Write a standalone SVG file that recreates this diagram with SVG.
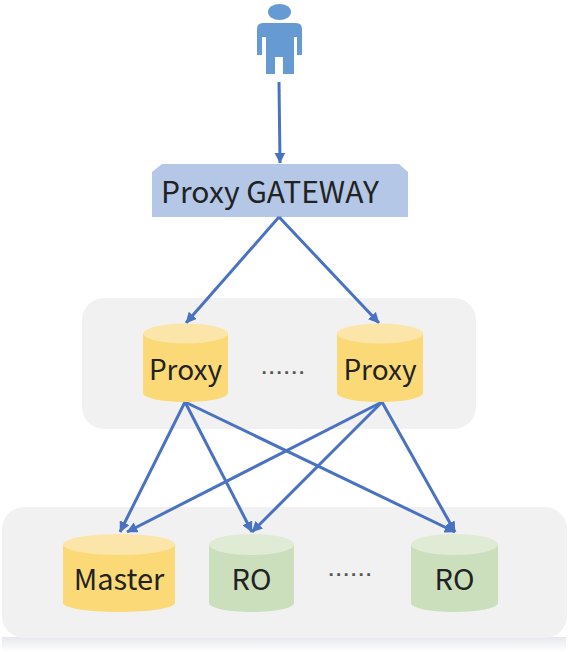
<svg xmlns="http://www.w3.org/2000/svg" width="568" height="652" viewBox="0 0 568 652">
<defs>
<style>
.t{font-family:"Noto Sans CJK SC","Noto Sans",sans-serif;font-size:29px;fill:#222;text-anchor:middle}
.g{font-family:"Liberation Sans",sans-serif;font-size:19px;font-weight:bold;fill:#555;text-anchor:middle;letter-spacing:2.2px}
.c{stroke:#4a72c2;stroke-width:3;fill:none;marker-end:url(#a)}
.p{fill:#f1f1f1}
</style>
<marker id="a" viewBox="0 0 10 10" refX="9.500" refY="5" markerWidth="3.600" markerHeight="3.600" orient="auto"><path d="M0 0L10 5L0 10Z" fill="#4a72c2"/></marker>
<linearGradient id="s" x1="0" y1="0" x2="0" y2="1"><stop offset="0" stop-color="#e6e8ee"/><stop offset="1" stop-color="#fff"/></linearGradient>
</defs>
<rect width="568" height="652" fill="#fff"/>
<rect x="2" y="637" width="564" height="15" fill="url(#s)"/>
<g id="panels">
<rect class="p" x="82" y="298" width="394" height="131" rx="22"/>
<rect class="p" x="2" y="507" width="565" height="131" rx="22"/>
</g>
<g id="user">
<ellipse cx="279.500" cy="12" rx="11.500" ry="8" fill="#659ad2"/>
<path d="M263 23H296Q302 23 302 29V55H297V37H294V74H283V57H275V74H266V37H262V55H257V29Q257 23 263 23Z" fill="#659ad2"/>
</g>
<g id="gateway">
<path d="M162 164H399L408 172V217H152V172Z" fill="#b4c7e7"/>
<text class="t" x="270" y="203" style="font-size:30px">Proxy GATEWAY</text>
</g>
<g id="connectors">
<path class="c" d="M279 82L280 163"/>
<path class="c" d="M279 217L186 323"/>
<path class="c" d="M279 217L379 323"/>
<path class="c" d="M185 402L120 532"/>
<path class="c" d="M185 402L252 532"/>
<path class="c" d="M185 402L455 532"/>
<path class="c" d="M382 402L127 532"/>
<path class="c" d="M382 402L252 532"/>
<path class="c" d="M382 402L455 532"/>
</g>
<g id="proxy1">
<path d="M143 334V393C143 398 162 402 185.500 402S228 398 228 393V334Z" fill="#fbd977"/>
<ellipse cx="185.500" cy="333.500" rx="42.500" ry="10" fill="#fce5a8"/>
<text class="t" x="185.500" y="380" style="font-size:28px">Proxy</text>
</g>
<g id="proxy2">
<path d="M337 334V393C337 398 356 402 380 402S423 398 423 393V334Z" fill="#fbd977"/>
<ellipse cx="380" cy="333.500" rx="43" ry="10" fill="#fce5a8"/>
<text class="t" x="380" y="380" style="font-size:28px">Proxy</text>
</g>
<text class="g" x="284" y="374">......</text>
<g id="master">
<path d="M63 545V603C63 608 88 612 119 612S175 608 175 603V545Z" fill="#fbd977"/>
<ellipse cx="119" cy="544.500" rx="56" ry="10.500" fill="#fce5a8"/>
<text class="t" x="119" y="590">Master</text>
</g>
<g id="ro1">
<path d="M209 545V603C209 608 228 612 252 612S294 608 294 603V545Z" fill="#ccdfbc"/>
<ellipse cx="251.500" cy="544.500" rx="42.500" ry="10.500" fill="#dfebd5"/>
<text class="t" x="251.500" y="590">RO</text>
</g>
<text class="g" x="351" y="576">......</text>
<g id="ro2">
<path d="M411 545V603C411 608 430 612 454 612S498 608 498 603V545Z" fill="#ccdfbc"/>
<ellipse cx="454.500" cy="544.500" rx="43.500" ry="10.500" fill="#dfebd5"/>
<text class="t" x="454.500" y="590">RO</text>
</g>
</svg>
